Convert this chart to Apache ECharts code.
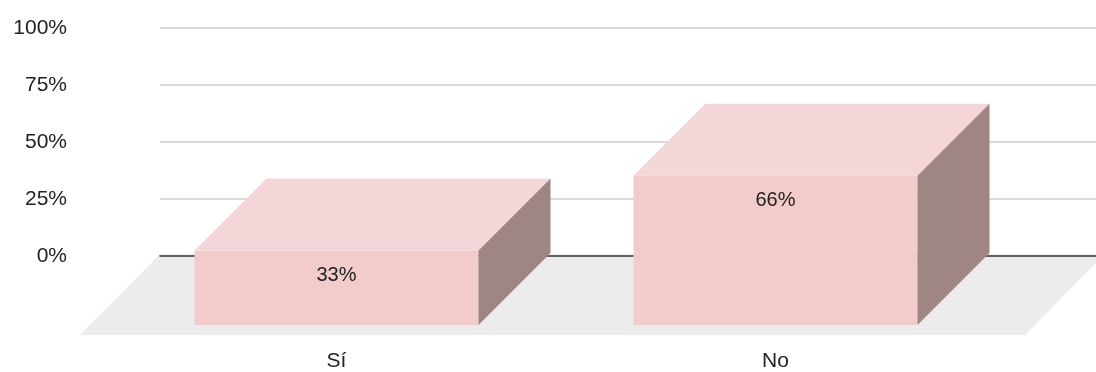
<!DOCTYPE html>
<html>
<head>
<meta charset="utf-8">
<script src="https://cdn.jsdelivr.net/npm/echarts@6/dist/echarts.min.js"></script>
<style>
html,body{margin:0;padding:0;background:#fff;}
#chart{width:1096px;height:372px;}
</style>
</head>
<body>
<div id="chart"></div>
<script>
const categories = ['Sí', 'No'];
const values = [33, 66];
const valueLabels = ['33%', '66%'];
const yTicks = [0, 25, 50, 75, 100];

const FONT = 'Liberation Sans, Arial, sans-serif';
const DEPTH_X = 72, DEPTH_Y = 72;
const COL_FRONT = '#f2cbcb', COL_TOP = '#f5d6d8', COL_SIDE = '#a08585', COL_FLOOR = '#ececec';

const chart = echarts.init(document.getElementById('chart'), null, {renderer: 'canvas'});

function renderBar(params, api) {
  const i = api.value(0);
  const v = api.value(1);
  const base = api.coord([i, 0]);
  const top = api.coord([i, v]);
  const w = api.size([1, 0])[0] * 0.647;
  const x0 = base[0] - w / 2, x1 = base[0] + w / 2;
  const yb = base[1], yt = top[1];
  return {
    type: 'group',
    children: [
      {type: 'rect', shape: {x: x0, y: yt, width: w, height: yb - yt}, style: {fill: COL_FRONT}},
      {type: 'polygon', shape: {points: [[x0, yt], [x0 + DEPTH_X, yt - DEPTH_Y], [x1 + DEPTH_X, yt - DEPTH_Y], [x1, yt]]}, style: {fill: COL_TOP}},
      {type: 'polygon', shape: {points: [[x1, yt], [x1 + DEPTH_X, yt - DEPTH_Y], [x1 + DEPTH_X, yb - DEPTH_Y], [x1, yb]]}, style: {fill: COL_SIDE}},
      {type: 'text', style: {text: valueLabels[params.dataIndex], x: base[0], y: yt + 25, align: 'center', verticalAlign: 'middle', fill: '#222', font: '20px ' + FONT}}
    ]
  };
}

function renderFloor(params, api) {
  const cs = params.coordSys;
  const yb = cs.y + cs.height + 10;
  const xl = cs.x - 37, xr = cs.x + cs.width + 30;
  return {
    type: 'polygon',
    shape: {points: [[xl, yb], [xl + 80, yb - 81], [xr + 80, yb - 81], [xr, yb]]},
    style: {fill: COL_FLOOR}
  };
}

chart.setOption({
  animation: false,
  grid: [
    {left: 160, right: 0, top: 28, bottom: 116},
    {left: 117, right: 101, top: 99, bottom: 45}
  ],
  xAxis: [
    {gridIndex: 0, type: 'category', data: categories, z: 1,
     axisLine: {show: true, lineStyle: {color: '#333', width: 1.5}},
     axisTick: {show: false}, axisLabel: {show: false}, splitLine: {show: false}},
    {gridIndex: 1, type: 'category', data: categories,
     axisLine: {show: false}, axisTick: {show: false}, splitLine: {show: false},
     axisLabel: {margin: 26, color: '#222', fontSize: 21, fontFamily: FONT}}
  ],
  yAxis: [
    {gridIndex: 0, type: 'value', min: yTicks[0], max: yTicks[yTicks.length - 1], interval: 25, z: 0,
     axisLine: {show: false}, axisTick: {show: false},
     axisLabel: {margin: 93, color: '#222', fontSize: 21, fontFamily: FONT, formatter: '{value}%'},
     splitLine: {lineStyle: {color: '#cccccc', width: 1.5}}},
    {gridIndex: 1, type: 'value', min: 0, max: 100, interval: 25, show: false, splitLine: {show: false}}
  ],
  series: [
    {type: 'custom', xAxisIndex: 1, yAxisIndex: 1, z: 0, silent: true,
     renderItem: renderFloor, data: [[0, 0]]},
    {type: 'custom', xAxisIndex: 1, yAxisIndex: 1, z: 2,
     renderItem: renderBar,
     data: values.map((v, i) => [i, v])}
  ]
});
</script>
</body>
</html>
